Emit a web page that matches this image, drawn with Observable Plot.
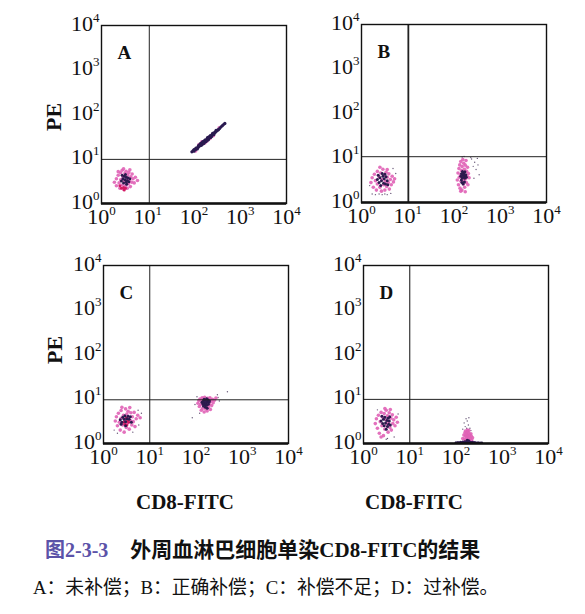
<!DOCTYPE html>
<html>
<head>
<meta charset="utf-8">
<script src="https://cdn.jsdelivr.net/npm/d3@7"></script>
<script src="https://cdn.jsdelivr.net/npm/@observablehq/plot@0.6"></script>
<style>
  body { margin: 0; background: #fff; }
  #wrap { position: relative; width: 585px; height: 614px; background: #fff; overflow: hidden; }
  .panel { position: absolute; }
  .panel svg { overflow: visible; }
  .lbl { position: absolute; font-family: "Liberation Serif", "Times New Roman", serif; font-weight: bold; color: #111; white-space: nowrap; }
  .cap { position: absolute; white-space: nowrap; line-height: 1; color: #111; }
</style>
</head>
<body>
<div id="wrap"></div>
<script>
// ---------- data (fluorescence intensities) ----------
const tickValues = [1, 10, 100, 1000, 10000];
const panelNames = ["A", "B", "C", "D"];
const gateX = [10.8, 10.3, 10.0, 10.0];   // CD8-FITC quadrant gate per panel
const gateY = [9.8, 10.7, 9.6, 9.8];      // PE quadrant gate per panel

// Panel A: uncompensated
const aNegPink = [[1.9,3.0],[2.1,2.5],[2.1,3.6],[2.3,4.3],[2.4,2.9],[2.5,2.2],[2.6,3.4],[2.6,4.9],[2.8,2.6],[2.8,5.6],[2.9,4.0],[3.0,2.1],[3.1,3.1],[3.2,4.7],[3.3,2.5],[3.4,5.3],[3.5,3.7],[3.6,2.2],[3.7,4.4],[3.8,2.8],[3.9,5.0],[4.0,3.3],[4.2,2.4],[4.3,4.0],[4.5,3.0],[4.6,4.6],[4.8,3.6],[5.1,2.9],[5.4,3.9],[2.3,5.2],[3.0,6.0],[4.1,5.7],[6.0,3.3]];
const aNegRed = [[2.7,2.2],[3.0,2.3],[3.3,2.2],[3.1,2.0],[2.5,2.5]];
const aNegDark = [[2.7,3.2],[2.9,3.6],[3.0,2.9],[3.1,4.1],[3.2,3.4],[3.4,3.0],[3.4,3.9],[3.6,3.3],[3.7,3.8],[3.9,3.1],[2.8,4.3],[3.5,2.7],[4.1,3.6],[3.3,4.5]];
const aPosDark = [[90,14.5],[96,15.5],[100,15],[105,16.5],[110,16.5],[115,17.5],[120,18],[125,18.5],[130,19.5],[133,20.5],[138,20],[142,21],[146,22],[150,21.5],[155,23],[160,23.5],[165,24.5],[170,24],[175,25.5],[180,26],[185,27],[190,26.5],[196,28],[202,29],[208,28.5],[214,30],[220,31],[228,32],[236,33],[245,34.5],[255,35],[265,37],[278,39],[290,40],[305,42],[320,44],[340,46],[360,49],[385,53],[410,56],[440,60],[465,63],[140,22.5],[150,23.5],[160,22],[170,26],[180,24.5],[195,30],[205,27],[215,32],[230,30.5],[125,20],[118,16.8],[250,37],[135,21.5],[145,20.5],[155,24.5],[165,23],[175,27],[185,25.5],[200,30.5],[210,30],[225,33.5],[240,32],[260,38],[270,35.5],[110,17.5],[100,16.2],[300,44],[330,45]];
const aPosPink = [[128,21],[148,24.5],[172,22.8],[192,25.5],[222,29],[262,33.5],[108,15.2],[350,50]];

// Panel B: correct compensation
const bNegPink = [[1.6,2.8],[1.7,3.6],[1.8,2.2],[1.9,4.3],[2.0,3.1],[2.1,1.9],[2.2,2.6],[2.2,5.0],[2.4,3.8],[2.5,2.2],[2.6,4.6],[2.7,1.8],[2.8,3.3],[2.9,5.6],[3.0,2.5],[3.1,4.1],[3.2,1.9],[3.3,3.0],[3.4,4.8],[3.5,2.3],[3.6,3.7],[3.8,2.8],[3.9,4.4],[4.0,2.0],[4.2,3.3],[4.4,2.5],[4.6,3.9],[4.9,2.9],[5.2,3.4],[2.5,6.2],[3.6,5.5]];
const bNegDark = [[2.2,3.3],[2.4,2.8],[2.5,3.6],[2.6,2.4],[2.7,3.1],[2.9,3.9],[3.0,2.7],[3.1,3.4],[3.3,2.6],[3.4,3.8],[3.6,3.1],[2.8,4.5],[3.2,4.3],[3.7,2.5],[2.3,4.1]];
const bNegDots = [[1.7,1.55],[2.0,1.5],[2.4,1.55],[2.8,1.5],[3.2,1.55],[3.6,1.5],[4.3,1.6],[1.5,2.4],[5.5,4.5],[4.8,5.8]];
const bPosPink = [[118,3.2],[122,4.6],[125,2.5],[128,5.8],[130,3.7],[133,7.0],[135,2.1],[138,4.2],[140,8.3],[142,3.0],[145,5.2],[148,1.9],[150,6.4],[152,3.5],[155,9.2],[158,2.6],[160,4.8],[162,7.6],[165,3.1],[168,5.6],[170,2.2],[172,4.1],[175,6.9],[178,3.4],[182,8.8],[185,2.8],[188,5.0],[192,3.9],[196,6.2],[200,2.5],[205,4.5],[212,3.6],[140,1.8],[175,1.75]];
const bPosDark = [[140,3.9],[145,4.4],[150,3.6],[155,4.1],[160,4.6],[162,3.8],[165,4.3],[170,3.5],[175,4.0],[148,2.8],[158,2.6],[168,2.9],[152,5.0],[172,4.9],[180,4.2],[145,3.2],[185,3.7]];
const bPosDots = [[240,9.5],[260,6.5],[280,8.0],[300,5.5],[330,7.0],[350,4.2],[230,10.2],[270,3.5],[320,9.8],[165,10.8],[150,10.5]];

// Panel C: under-compensation
const cNegPink = [[1.8,3.2],[1.9,4.0],[2.0,2.5],[2.1,4.8],[2.2,3.0],[2.3,2.0],[2.4,3.7],[2.4,5.5],[2.6,2.6],[2.7,4.3],[2.8,1.8],[2.9,3.3],[3.0,6.0],[3.1,2.3],[3.2,4.6],[3.3,2.9],[3.4,5.3],[3.5,3.9],[3.6,2.1],[3.8,3.3],[3.9,4.9],[4.1,2.6],[4.2,4.0],[4.4,3.1],[4.6,5.0],[4.8,2.4],[5.1,3.6],[5.5,4.3],[6.2,3.8],[2.5,6.5],[3.7,6.4]];
const cNegRed = [[2.7,3.0],[2.9,2.7],[3.1,3.8],[3.3,3.2],[3.5,3.0],[3.2,2.6]];
const cNegDark = [[2.3,3.4],[2.5,3.0],[2.6,3.9],[2.8,3.5],[2.9,4.2],[3.0,3.1],[3.2,3.6],[3.4,4.1],[3.6,3.5],[3.0,2.5],[2.4,2.7],[3.8,4.0],[4.0,3.0]];
const cNegDots = [[1.7,2.0],[2.0,1.7],[5.8,2.6],[5.6,5.6],[4.3,1.8],[6.6,4.8]];
const cPosPink = [[110,8.0],[115,9.2],[118,6.8],[122,10.0],[126,7.5],[130,5.6],[133,8.8],[136,10.6],[140,6.2],[144,9.6],[148,7.2],[150,5.1],[154,10.9],[158,8.3],[162,6.0],[166,9.9],[170,7.0],[174,5.4],[178,10.4],[182,8.6],[186,6.5],[190,9.3],[195,7.6],[200,10.7],[205,5.8],[210,8.9],[218,7.1],[226,9.8],[235,8.2],[250,9.4],[270,10.5]];
const cPosDark = [[135,8.5],[140,7.8],[145,9.0],[150,8.2],[155,7.4],[160,9.3],[165,8.0],[170,7.2],[175,8.7],[180,9.6],[185,7.6],[190,8.4],[160,6.5],[150,9.9],[170,10.1],[195,9.0],[175,6.2],[145,7.0]];
const cPosDots = [[290,12.5],[300,10.8],[320,9.0],[95,7.5],[105,11.2],[120,4.8],[83,3.8],[478,14.5]];

// Panel D: over-compensation
const dNegPink = [[1.8,2.8],[1.9,3.6],[2.0,2.2],[2.1,4.3],[2.2,1.7],[2.3,3.1],[2.4,5.0],[2.5,2.5],[2.6,3.9],[2.7,1.5],[2.8,4.7],[2.9,2.1],[3.0,3.4],[3.1,5.6],[3.2,2.7],[3.3,4.2],[3.4,1.8],[3.5,3.1],[3.6,4.9],[3.7,2.3],[3.9,3.7],[4.0,2.0],[4.2,4.4],[4.3,2.8],[4.5,3.4],[4.8,2.5],[5.1,3.9],[5.4,3.0],[2.9,6.1],[3.8,5.8],[2.4,1.4]];
const dNegDark = [[2.4,3.2],[2.6,2.8],[2.7,3.5],[2.8,2.5],[2.9,3.9],[3.0,2.9],[3.2,3.3],[3.3,2.4],[3.4,3.7],[3.5,2.7],[3.6,3.2],[3.8,2.6],[3.1,2.1],[2.5,4.1],[3.7,4.0]];
const dNegDots = [[3.3,1.3],[3.1,1.25],[4.6,1.4],[5.6,4.6],[2.0,5.7]];
const dPosPink = [[140,1.3],[148,1.55],[152,1.25],[156,1.75],[160,1.45],[164,1.2],[168,1.65],[172,1.35],[176,1.85],[180,1.55],[184,1.25],[188,1.7],[192,1.4],[196,1.2],[200,1.55],[205,1.3],[210,1.65],[215,1.45],[220,1.2],[228,1.35],[160,1.9],[190,1.95],[178,2.0],[170,1.5],[185,1.45]];
const dPosDark = [[100,1.04],[110,1.05],[118,1.03],[125,1.07],[132,1.04],[140,1.08],[148,1.05],[155,1.1],[162,1.06],[170,1.08],[178,1.05],[186,1.09],[195,1.04],[205,1.07],[215,1.05],[228,1.06],[240,1.04],[255,1.05],[275,1.03],[300,1.04],[330,1.03],[360,1.02],[175,1.18],[188,1.15]];
const dPosDots = [[150,2.9],[165,3.6],[175,3.2],[158,2.4],[185,2.6],[200,2.2],[170,2.2],[210,1.95],[140,2.1],[190,3.8]];

const panelData = [
  {dots: [], pink: [...aNegPink, ...aPosPink], red: [...aNegRed], dark: [...aNegDark], streak: [...aPosDark]},
  {dots: [...bNegDots, ...bPosDots], pink: [...bNegPink, ...bPosPink], red: [], dark: [...bNegDark, ...bPosDark], streak: []},
  {dots: [...cNegDots, ...cPosDots], pink: [...cNegPink, ...cPosPink], red: [...cNegRed], dark: [...cNegDark, ...cPosDark], streak: []},
  {dots: [...dNegDots, ...dPosDots], pink: [...dNegPink, ...dPosPink], red: [], dark: [...dNegDark, ...dPosDark], streak: []}
];

// ---------- layout / style ----------
const frames = [
  {left: 101, top: 25}, {left: 361, top: 24},
  {left: 103, top: 265}, {left: 363, top: 265}
];
const gateWidths = [1, 1.8, 1, 1.1];
const FW = 185, FH = 178;
const M = {l: 40, r: 24, t: 18, b: 32};
const serif = '"Liberation Serif", "Times New Roman", serif';
const wrap = document.getElementById("wrap");
const toObj = arr => arr.map(([x, y]) => ({x, y}));

panelNames.forEach((name, i) => {
  const d = panelData[i];
  const chart = Plot.plot({
    width: M.l + FW + M.r,
    height: M.t + FH + M.b,
    marginLeft: M.l, marginRight: M.r, marginTop: M.t, marginBottom: M.b,
    style: {fontFamily: serif, fontSize: "22px", color: "#111", background: "transparent", overflow: "visible"},
    x: {type: "log", domain: [tickValues[0], tickValues[tickValues.length - 1]]},
    y: {type: "log", domain: [tickValues[0], tickValues[tickValues.length - 1]]},
    marks: [
      Plot.dot(toObj(d.dots), {x: "x", y: "y", r: 0.7, fill: "#6a5a7a", clip: true}),
      Plot.dot(toObj(d.pink), {x: "x", y: "y", r: 1.8, fill: "#e062b6", fillOpacity: 0.9, clip: true}),
      Plot.dot(toObj(d.red), {x: "x", y: "y", r: 1.5, fill: "#d41a62", clip: true}),
      Plot.dot(toObj(d.dark), {x: "x", y: "y", r: 1.5, fill: "#2c1a4e", clip: true}),
      Plot.dot(toObj(d.streak), {x: "x", y: "y", r: 1.6, fill: "#2a1a50", clip: true}),
      Plot.ruleX([gateX[i]], {stroke: "#222", strokeWidth: gateWidths[i]}),
      Plot.ruleY([gateY[i]], {stroke: "#222", strokeWidth: 1}),
      Plot.frame({stroke: "#111", strokeWidth: 1.4}),
      Plot.ruleY([tickValues[0]], {stroke: "#111", strokeWidth: 2.6}),
      Plot.axisX({ticks: tickValues, tickSize: 0, tickPadding: 5, label: null,
        tickFormat: v => "10^" + Math.round(Math.log10(v))}),
      Plot.axisY({ticks: tickValues, tickSize: 0, tickPadding: 2, dy: -2, label: null,
        tickFormat: v => "10^" + Math.round(Math.log10(v))}),
      Plot.text([name], {frameAnchor: "top-left", text: t => t, dx: 16, dy: 20,
        lineAnchor: "top", textAnchor: "start", fontSize: 19, fontWeight: "bold", fill: "#111"})
    ]
  });
  // superscript exponents
  d3.select(chart).selectAll("text").each(function() {
    const t = this.textContent;
    const m = /^10\^(\d)$/.exec(t);
    if (!m) return;
    const sel = d3.select(this);
    sel.text(null);
    sel.append("tspan").text("10");
    sel.append("tspan").attr("font-size", 13).attr("dy", "-9").text(m[1]);
  });
  const holder = document.createElement("div");
  holder.className = "panel";
  holder.style.left = (frames[i].left - M.l) + "px";
  holder.style.top = (frames[i].top - M.t) + "px";
  holder.appendChild(chart);
  wrap.appendChild(holder);
});

// axis titles
function addLabel(text, cx, cy, size, rotate) {
  const el = document.createElement("div");
  el.className = "lbl";
  el.textContent = text;
  el.style.fontSize = size + "px";
  el.style.lineHeight = "1";
  el.style.left = cx + "px";
  el.style.top = cy + "px";
  el.style.transform = "translate(-50%,-50%)" + (rotate ? " rotate(-90deg)" : "");
  wrap.appendChild(el);
}
addLabel("PE", 54, 117, 22, true);
addLabel("PE", 55, 350, 22, true);
addLabel("CD8-FITC", 185, 502, 21, false);
addLabel("CD8-FITC", 414, 502, 21, false);

// captions
const capFont = '"Liberation Serif", "Noto Sans CJK SC", serif';
const cap1 = document.createElement("div");
cap1.className = "cap";
cap1.style.left = "45px";
cap1.style.top = "540px";
cap1.style.fontFamily = capFont;
const c1a = document.createElement("span");
c1a.textContent = "图2-3-3";
c1a.style.cssText = "color:#5b52a8;font-size:20px;font-weight:bold;";
const c1b = document.createElement("span");
c1b.textContent = "外周血淋巴细胞单染CD8-FITC的结果";
c1b.style.cssText = "margin-left:22px;font-size:21px;font-weight:bold;";
cap1.appendChild(c1a);
cap1.appendChild(c1b);
wrap.appendChild(cap1);

const cap2 = document.createElement("div");
cap2.className = "cap";
cap2.style.left = "33px";
cap2.style.top = "579px";
cap2.style.fontSize = "18.8px";
cap2.style.fontFamily = capFont;
cap2.textContent = "A：未补偿；B：正确补偿；C：补偿不足；D：过补偿。";
wrap.appendChild(cap2);
</script>
</body>
</html>
